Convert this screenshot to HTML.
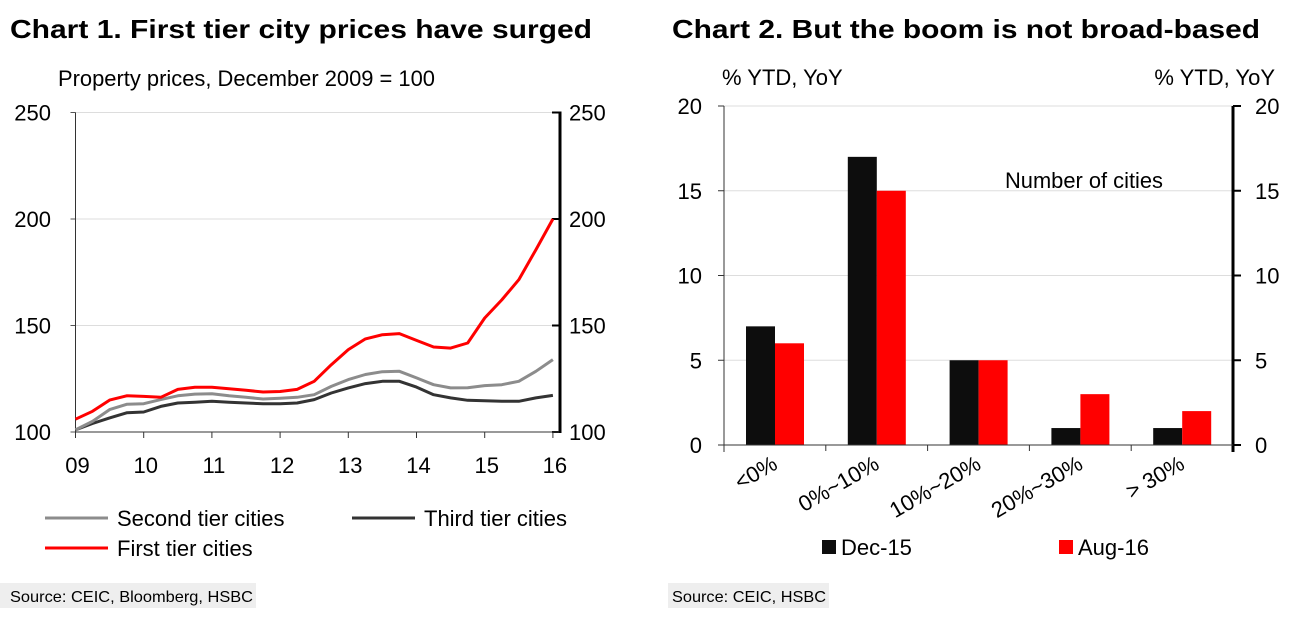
<!DOCTYPE html>
<html><head><meta charset="utf-8"><style>
html,body{margin:0;padding:0;background:#fff;}
svg{display:block;font-family:"Liberation Sans",Arial,sans-serif;}
</style></head><body>
<svg id="s" width="1297" height="617" viewBox="0 0 1297 617">
<text x="10" y="38" font-size="26" font-weight="bold" textLength="582" lengthAdjust="spacingAndGlyphs">Chart 1. First tier city prices have surged</text>
<text x="672" y="38" font-size="26" font-weight="bold" textLength="588" lengthAdjust="spacingAndGlyphs">Chart 2. But the boom is not broad-based</text>
<text x="58" y="86" font-size="22" textLength="377" lengthAdjust="spacingAndGlyphs">Property prices, December 2009 = 100</text>
<g id="c1"></g>
<g id="c2"></g>
<rect x="0" y="583" width="256" height="25" fill="#eeeeee"/>
<text x="10" y="602" font-size="16" textLength="243" lengthAdjust="spacingAndGlyphs">Source: CEIC, Bloomberg, HSBC</text>
<rect x="668" y="583" width="161" height="25" fill="#eeeeee"/>
<text x="672" y="602" font-size="16" textLength="154" lengthAdjust="spacingAndGlyphs">Source: CEIC, HSBC</text>
</svg>
<script>
// Chart 1 data (quarterly from Dec 2009)
const c1YearLabels = ["09","10","11","12","13","14","15","16"];
const c1Ticks = [100,150,200,250];
const firstTier = [106,109.7,115,117,116.7,116.3,120,121,121,120.3,119.6,118.8,119,120,123.8,131.6,138.7,143.7,145.7,146.2,143,139.9,139.4,141.8,153.5,162,171.5,185.6,200];
const secondTier = [101,105,110.5,113,113.3,115.2,117,117.8,118,117,116.3,115.5,115.8,116.3,117.5,121.4,124.6,127,128.3,128.5,125.4,122.2,120.7,120.8,121.8,122.2,123.8,128.5,134];
const thirdTier = [101,104,106.6,109,109.4,112,113.6,114,114.4,114,113.6,113.3,113.3,113.6,115.2,118.3,120.7,122.7,123.8,123.8,121.1,117.5,116,114.9,114.7,114.4,114.4,116,117.2];
// Chart 2 data
const c2Categories = ["<0%","0%~10%","10%~20%","20%~30%","> 30%"];
const dec15 = [7,17,5,1,1];
const aug16 = [6,15,5,3,2];
const c2Ticks = [0,5,10,15,20];

const NS="http://www.w3.org/2000/svg";
function mk(parent,tag,attrs,txt){const e=document.createElementNS(NS,tag);for(const k in attrs)e.setAttribute(k,attrs[k]);if(txt!==undefined)e.textContent=txt;parent.appendChild(e);return e;}

// ---- Chart 1
const c1=document.getElementById('c1');
const X0=75.5,X1=559,YEARW=68.2;
const y1=v=>432-(v-100)/150*319.5;
const x1=t=>X0+t*YEARW;
c1Ticks.forEach(v=>{
  if(v>100){const g=mk(c1,'line',{x1:X0,x2:X1,y1:y1(v),y2:y1(v),stroke:'#dddddd','stroke-width':1});
  
  }
  const l=mk(c1,'text',{x:51,y:y1(v)+8,'font-size':22,'text-anchor':'end'},String(v));
  
  
  const r=mk(c1,'text',{x:569,y:y1(v)+8,'font-size':22},String(v));
  
  
  const tk=mk(c1,'line',{x1:X1-7,x2:X1+1,y1:y1(v),y2:y1(v),stroke:'#000','stroke-width':2});
  
  
  const tl=mk(c1,'line',{x1:X0-5,x2:X0,y1:y1(v),y2:y1(v),stroke:'#555','stroke-width':1});
  
  
});
let a=mk(c1,'line',{x1:X0,x2:X0,y1:y1(250),y2:432,stroke:'#333','stroke-width':1});

a=mk(c1,'line',{x1:X1+1,x2:X1+1,y1:y1(250)-1,y2:433,stroke:'#000','stroke-width':3});

a=mk(c1,'line',{x1:X0,x2:X1,y1:432,y2:432,stroke:'#333','stroke-width':1});

c1YearLabels.forEach((s,i)=>{
  const t=mk(c1,'line',{x1:x1(i),x2:x1(i),y1:432,y2:438,stroke:'#333','stroke-width':1});
  
  const l=mk(c1,'text',{x:x1(i)+2,y:473,'font-size':22,'text-anchor':'middle'},s);
  
});
function line(arr,col,name){
  const n=arr.length-1;
  const d=arr.map((v,i)=>(i?'L':'M')+x1(i*7/n).toFixed(1)+','+y1(v).toFixed(1)).join(' ');
  const p=mk(c1,'path',{d:d,fill:'none',stroke:col,'stroke-width':3,'stroke-linejoin':'round'});
  
  
}
line(thirdTier,'#333333','third-tier-line');
line(secondTier,'#8c8c8c','second-tier-line');
line(firstTier,'#ff0000','first-tier-line');
function leg1(x,y,col,txt,name){
  const g=mk(c1,'g',{});
  
  
  mk(g,'line',{x1:x,x2:x+63,y1:y,y2:y,stroke:col,'stroke-width':3});
  mk(g,'text',{x:x+72,y:y+8,'font-size':22},txt);
}
leg1(45,518,'#8c8c8c','Second  tier cities','legend-second-tier');
leg1(352,518,'#333333','Third tier cities','legend-third-tier');
leg1(45,548,'#ff0000','First tier cities','legend-first-tier');

// ---- Chart 2
const c2=document.getElementById('c2');
const L=724,R=1233,GW=(R-L)/5;
const y2=v=>445-v/20*339;
mk(c2,'text',{x:722,y:85,'font-size':22},'% YTD, YoY');
mk(c2,'text',{x:1275,y:85,'font-size':22,'text-anchor':'end'},'% YTD, YoY');
c2Ticks.forEach(v=>{
  if(v>0){const g=mk(c2,'line',{x1:L,x2:R,y1:y2(v),y2:y2(v),stroke:'#dddddd','stroke-width':1});
  }
  const l=mk(c2,'text',{x:702,y:y2(v)+8,'font-size':22,'text-anchor':'end'},String(v));
  
  const r=mk(c2,'text',{x:1255,y:y2(v)+8,'font-size':22},String(v));
  
  const tl=mk(c2,'line',{x1:L-6,x2:L,y1:y2(v),y2:y2(v),stroke:'#333','stroke-width':1});
  
  const tr=mk(c2,'line',{x1:R,x2:R+8,y1:y2(v),y2:y2(v),stroke:'#000','stroke-width':2});
  
});
c2Categories.forEach((c,i)=>{
  const gx=L+i*GW;
  const b1=mk(c2,'rect',{x:gx+22,y:y2(dec15[i]),width:29,height:445-y2(dec15[i]),fill:'#0d0d0d'});
  
  const b2=mk(c2,'rect',{x:gx+51,y:y2(aug16[i]),width:29,height:445-y2(aug16[i]),fill:'#ff0000'});
  
  const t=mk(c2,'line',{x1:gx,x2:gx,y1:445,y2:451,stroke:'#333','stroke-width':1});
  
  const cx=gx+GW/2+4, cy=468;
  const l=mk(c2,'text',{x:cx,y:cy,'font-size':22,'text-anchor':'end',transform:'rotate(-30 '+cx+' '+cy+')'},c);
  
});
a=mk(c2,'line',{x1:L,x2:L,y1:y2(20),y2:452,stroke:'#333','stroke-width':1});

a=mk(c2,'line',{x1:R,x2:R,y1:y2(20),y2:452,stroke:'#000','stroke-width':3});

a=mk(c2,'line',{x1:L-6,x2:R,y1:445,y2:445,stroke:'#333','stroke-width':1});

a=mk(c2,'text',{x:1005,y:188,'font-size':22,textLength:158,lengthAdjust:'spacingAndGlyphs'},'Number of cities');

function leg2(x,col,txt,name){
  const g=mk(c2,'g',{});
  
  
  mk(g,'rect',{x:x,y:540,width:14,height:14,fill:col});
  mk(g,'text',{x:x+19,y:555,'font-size':22},txt);
}
leg2(822,'#0d0d0d','Dec-15','legend-dec15');
leg2(1059,'#ff0000','Aug-16','legend-aug16');
</script>
</body></html>
